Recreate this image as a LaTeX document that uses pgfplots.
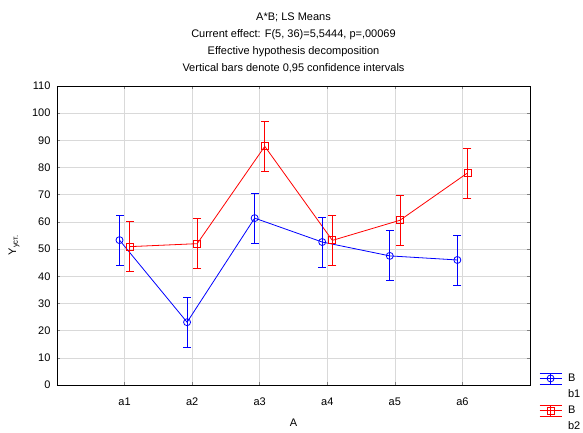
\documentclass[border=0pt]{standalone}
\usepackage{fontspec}
\setmainfont{Liberation Sans}
\usepackage{pgfplots}
\pgfplotsset{compat=1.18}

\definecolor{sblue}{RGB}{0,0,255}
\definecolor{sred}{RGB}{255,0,0}

\pgfplotsset{
  ebarlegend/.style={
    legend image code/.code={
      \draw[##1,mark=none] (0pt,0pt) -- (22pt,0pt);
      \draw[##1,mark=none] (0pt,5.5pt) -- (22pt,5.5pt);
      \draw[##1,mark=none] (0pt,-5.5pt) -- (22pt,-5.5pt);
      \draw[##1,mark=none] (11pt,-5.5pt) -- (11pt,5.5pt);
      \draw[##1] plot coordinates {(11pt,0pt)};
    }
  },
}

\begin{document}
\begin{tikzpicture}
\path[use as bounding box] (-57pt,-47pt) rectangle (526pt,385pt);
\begin{axis}[
    at={(0pt,0pt)}, anchor=south west,
    scale only axis,
    width=473pt, height=299pt,
    xmin=0, xmax=7,
    ymin=0, ymax=110,
    xtick={1,2,3,4,5,6},
    xticklabels={a1,a2,a3,a4,a5,a6},
    ytick={0,10,...,110},
    grid=major,
    grid style={gray!30, line width=0.6pt},
    axis line style={line width=0.9pt},
    tick align=inside,
    major tick length=3pt,
    tick style={line width=0.6pt},
    font=\fontsize{11}{13}\selectfont,
    ticklabel style={font=\fontsize{11}{13}\selectfont},
    xticklabel style={anchor=base, yshift=-20pt},
    yticklabel style={xshift=-3pt},
    /pgf/number format/assume math mode=true,
    xlabel={A},
    ylabel={Y\textsubscript{уст.}},
    xlabel style={at={(axis description cs:0.5,-0.127)}, anchor=center},
    ylabel style={at={(axis description cs:-0.0909,0.468)}, anchor=center},
    title={A*B; LS Means\\Current effect: F(5, 36)=5,5444, p=,00069\\Effective hypothesis decomposition\\Vertical bars denote 0,95 confidence intervals},
    title style={align=center, font=\fontsize{11}{17}\selectfont, yshift=4pt},
    legend style={
      at={(1,0)}, anchor=north west, xshift=6pt, yshift=15pt,
      draw=none, fill=none,
      font=\fontsize{11}{13}\selectfont,
      row sep=3.5pt,
      column sep=5pt,
      nodes={inner sep=1pt, anchor=west, text height=8pt, text depth=2.5pt},
    },
    legend cell align=left,
    clip=false,
]
% means
\addplot[color=sblue, line width=0.8pt, mark=o, mark size=3.5pt, ebarlegend] coordinates {
  (0.925,53.3) (1.925,23.1) (2.925,61.4) (3.925,52.6) (4.925,47.5) (5.925,46.0)
};
\addlegendentry{B}
\addlegendimage{empty legend}
\addlegendentry{b1}
\addplot[color=sred, line width=0.8pt, mark=square, mark size=3.5pt, ebarlegend] coordinates {
  (1.075,50.9) (2.075,52.0) (3.075,87.8) (4.075,53.2) (5.075,60.6) (6.075,78.0)
};
\addlegendentry{B}
\addlegendimage{empty legend}
\addlegendentry{b2}
% 0,95 confidence intervals, b1
\addplot[color=sblue, draw=sblue, line width=0.8pt, mark=none, unbounded coords=jump] coordinates {
  (0.925,44.1) (0.925,62.5) (0.925,nan)
  (1.925,13.9) (1.925,32.3) (1.925,nan)
  (2.925,52.2) (2.925,70.6) (2.925,nan)
  (3.925,43.4) (3.925,61.8) (3.925,nan)
  (4.925,38.3) (4.925,56.7) (4.925,nan)
  (5.925,36.8) (5.925,55.2)
};
\addplot[color=sblue, only marks, mark=-, mark size=4pt, mark options={draw=sblue, line width=0.8pt}] coordinates {
  (0.925,44.1) (0.925,62.5) (1.925,13.9) (1.925,32.3)
  (2.925,52.2) (2.925,70.6) (3.925,43.4) (3.925,61.8)
  (4.925,38.3) (4.925,56.7) (5.925,36.8) (5.925,55.2)
};
% 0,95 confidence intervals, b2
\addplot[color=sred, draw=sred, line width=0.8pt, mark=none, unbounded coords=jump] coordinates {
  (1.075,41.7) (1.075,60.1) (1.075,nan)
  (2.075,42.8) (2.075,61.2) (2.075,nan)
  (3.075,78.6) (3.075,97.0) (3.075,nan)
  (4.075,44.0) (4.075,62.4) (4.075,nan)
  (5.075,51.4) (5.075,69.8) (5.075,nan)
  (6.075,68.8) (6.075,87.2)
};
\addplot[color=sred, only marks, mark=-, mark size=4pt, mark options={draw=sred, line width=0.8pt}] coordinates {
  (1.075,41.7) (1.075,60.1) (2.075,42.8) (2.075,61.2)
  (3.075,78.6) (3.075,97.0) (4.075,44.0) (4.075,62.4)
  (5.075,51.4) (5.075,69.8) (6.075,68.8) (6.075,87.2)
};
\end{axis}
\end{tikzpicture}
\end{document}
